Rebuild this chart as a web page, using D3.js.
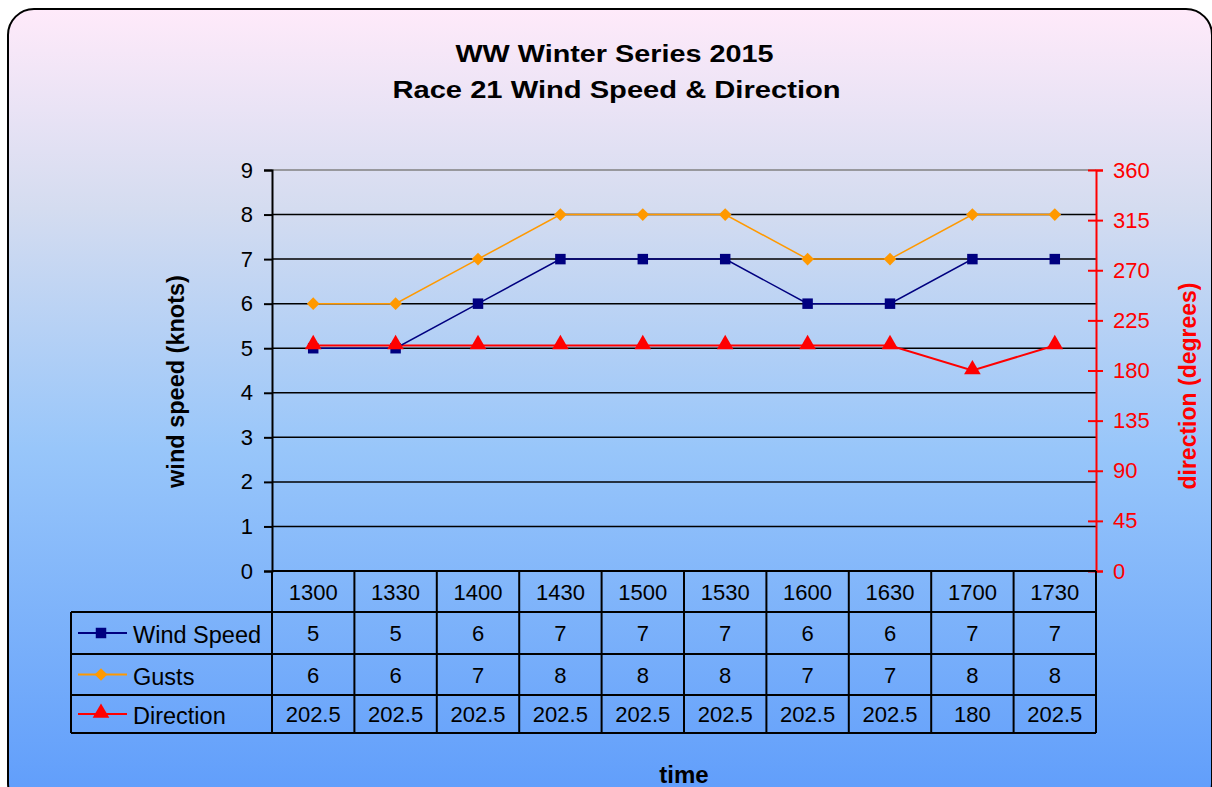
<!DOCTYPE html>
<html>
<head>
<meta charset="utf-8">
<script src="https://cdn.jsdelivr.net/npm/d3@7"></script>
<style>
  html, body { margin: 0; padding: 0; background: #fff; }
  svg { display: block; font-family: Arial, "Liberation Sans", sans-serif; }
</style>
</head>
<body>
<svg id="chart" width="1212" height="787"></svg>
<script>
"use strict";

// chart data
const times = ["1300", "1330", "1400", "1430", "1500", "1530", "1600", "1630", "1700", "1730"];
const windSpeed = [5, 5, 6, 7, 7, 7, 6, 6, 7, 7];
const gusts = [6, 6, 7, 8, 8, 8, 7, 7, 8, 8];
const direction = [202.5, 202.5, 202.5, 202.5, 202.5, 202.5, 202.5, 202.5, 180, 202.5];
const speedTicks = [0, 1, 2, 3, 4, 5, 6, 7, 8, 9];
const dirTicks = [0, 45, 90, 135, 180, 225, 270, 315, 360];

(function() {
  const svg = d3.select("#chart");

  // background gradient
  const defs = svg.append("defs");
  const grad = defs.append("linearGradient")
    .attr("id", "bg").attr("x1", 0).attr("y1", 0).attr("x2", 0).attr("y2", 1);
  grad.append("stop").attr("offset", "0%").attr("stop-color", "#ffeafa");
  grad.append("stop").attr("offset", "25%").attr("stop-color", "#d4dcf0");
  grad.append("stop").attr("offset", "55%").attr("stop-color", "#98c6fa");
  grad.append("stop").attr("offset", "100%").attr("stop-color", "#5e9cfb");

  svg.append("rect")
    .attr("x", 8).attr("y", 9)
    .attr("width", 1204).attr("height", 800)
    .attr("rx", 26).attr("ry", 26)
    .attr("fill", "url(#bg)")
    .attr("stroke", "#000")
    .attr("stroke-width", 2);

  const left = 272, right = 1096, top = 170, bottom = 571;

  const x = d3.scaleBand().domain(times).range([left, right]);
  const ySpeed = d3.scaleLinear().domain([0, 9]).range([bottom, top]);
  const yDir = d3.scaleLinear().domain([0, 360]).range([bottom, top]);
  const cx = d => x(d) + x.bandwidth() / 2;

  // gridlines
  svg.append("g").selectAll("line")
    .data(speedTicks.filter(t => t > 0))
    .enter().append("line")
    .attr("x1", left).attr("x2", right)
    .attr("y1", d => ySpeed(d)).attr("y2", d => ySpeed(d))
    .attr("stroke", d => d === 9 ? "#808080" : "#000")
    .attr("stroke-width", 1.5);

  // left axis
  const leftAxis = svg.append("g")
    .attr("transform", "translate(" + left + ",0)")
    .call(d3.axisLeft(ySpeed).tickValues(speedTicks).tickSize(8).tickPadding(11).tickFormat(d3.format("d")));
  leftAxis.select(".domain").attr("stroke", "#000").attr("stroke-width", 2);
  leftAxis.selectAll(".tick line").attr("stroke", "#000").attr("stroke-width", 2);
  leftAxis.selectAll("text").attr("font-size", 22).attr("fill", "#000")
    .attr("font-family", "Arial, 'Liberation Sans', sans-serif");

  // right axis
  const rightAxis = svg.append("g")
    .attr("transform", "translate(" + right + ",0)")
    .call(d3.axisRight(yDir).tickValues(dirTicks).tickSize(7).tickPadding(10).tickFormat(d3.format("d")));
  rightAxis.select(".domain").attr("stroke", "#ff0000").attr("stroke-width", 2);
  rightAxis.selectAll(".tick line").attr("stroke", "#ff0000").attr("stroke-width", 2).attr("x1", -8);
  rightAxis.selectAll("text").attr("font-size", 22).attr("fill", "#ff0000")
    .attr("font-family", "Arial, 'Liberation Sans', sans-serif");

  // series lines
  const speedLine = d3.line().x((d, i) => cx(times[i])).y(d => ySpeed(d));
  const dirLine = d3.line().x((d, i) => cx(times[i])).y(d => yDir(d));

  svg.append("path").datum(direction).attr("d", dirLine)
    .attr("fill", "none").attr("stroke", "#ff0000").attr("stroke-width", 2);
  svg.append("path").datum(windSpeed).attr("d", speedLine)
    .attr("fill", "none").attr("stroke", "#000080").attr("stroke-width", 1.5);
  svg.append("path").datum(gusts).attr("d", speedLine)
    .attr("fill", "none").attr("stroke", "#ff9900").attr("stroke-width", 1.5);

  // square diamond (rotated square)
  const diamondType = {
    draw: function(ctx, size) {
      const r = Math.sqrt(size / 2);
      ctx.moveTo(0, -r);
      ctx.lineTo(r, 0);
      ctx.lineTo(0, r);
      ctx.lineTo(-r, 0);
      ctx.closePath();
    }
  };
  const square = d3.symbol().type(d3.symbolSquare).size(110);
  const diamond = d3.symbol().type(diamondType).size(80);
  const triangle = d3.symbol().type(d3.symbolTriangle).size(120);

  svg.append("g").selectAll("path").data(windSpeed).enter().append("path")
    .attr("d", square)
    .attr("transform", (d, i) => "translate(" + cx(times[i]) + "," + ySpeed(d) + ")")
    .attr("fill", "#000080");
  svg.append("g").selectAll("path").data(gusts).enter().append("path")
    .attr("d", diamond)
    .attr("transform", (d, i) => "translate(" + cx(times[i]) + "," + ySpeed(d) + ")")
    .attr("fill", "#ff9900");
  svg.append("g").selectAll("path").data(direction).enter().append("path")
    .attr("d", triangle)
    .attr("transform", (d, i) => "translate(" + cx(times[i]) + "," + (yDir(d) - 1) + ")")
    .attr("fill", "#ff0000");

  // data table
  const tableLeft = 71;
  const rowEdges = [571, 612, 654, 695, 733];
  const series = [
    { name: "Wind Speed", values: windSpeed, color: "#000080", marker: square },
    { name: "Gusts", values: gusts, color: "#ff9900", marker: diamond },
    { name: "Direction", values: direction, color: "#ff0000", marker: triangle }
  ];
  const table = svg.append("g").attr("stroke", "#000").attr("stroke-width", 2);

  // horizontal lines
  table.append("line").attr("x1", left).attr("x2", right).attr("y1", rowEdges[0]).attr("y2", rowEdges[0]);
  rowEdges.slice(1).forEach(yy => {
    table.append("line").attr("x1", tableLeft).attr("x2", right).attr("y1", yy).attr("y2", yy);
  });
  // vertical lines
  table.append("line").attr("x1", tableLeft).attr("x2", tableLeft).attr("y1", rowEdges[1]).attr("y2", rowEdges[4]);
  times.forEach(t => {
    table.append("line").attr("x1", x(t)).attr("x2", x(t)).attr("y1", rowEdges[0]).attr("y2", rowEdges[4]);
  });
  table.append("line").attr("x1", right).attr("x2", right).attr("y1", rowEdges[0]).attr("y2", rowEdges[4]);

  const textG = svg.append("g").attr("font-size", 22).attr("fill", "#000");
  times.forEach(t => {
    textG.append("text").attr("x", cx(t)).attr("y", (rowEdges[0] + rowEdges[1]) / 2 + 8)
      .attr("text-anchor", "middle").text(t);
  });
  series.forEach((s, r) => {
    const ym = (rowEdges[r + 1] + rowEdges[r + 2]) / 2;
    svg.append("line").attr("x1", 78).attr("x2", 127).attr("y1", ym).attr("y2", ym)
      .attr("stroke", s.color).attr("stroke-width", 2);
    svg.append("path").attr("d", s.marker)
      .attr("transform", "translate(101," + (ym - (r === 2 ? 1 : 0)) + ")")
      .attr("fill", s.color);
    textG.append("text").attr("x", 133).attr("y", ym + 10).attr("font-size", 23.5).text(s.name);
    s.values.forEach((v, i) => {
      textG.append("text").attr("x", cx(times[i])).attr("y", ym + 8)
        .attr("text-anchor", "middle").text(v);
    });
  });

  // titles
  const titleG = svg.append("g").attr("font-weight", "bold").attr("text-anchor", "middle");
  titleG.append("text").attr("font-size", 24)
    .attr("transform", "translate(614.5,61.5) scale(1.2,1)").text("WW Winter Series 2015");
  titleG.append("text").attr("font-size", 24.5)
    .attr("transform", "translate(616.5,98) scale(1.19,1)").text("Race 21 Wind Speed & Direction");
  titleG.append("text").attr("x", 684).attr("y", 783).attr("font-size", 24).text("time");
  titleG.append("text").attr("font-size", 23.5)
    .attr("transform", "translate(184,381.5) rotate(-90)").text("wind speed (knots)");
  titleG.append("text").attr("font-size", 23)
    .attr("transform", "translate(1196,386) rotate(-90)").attr("fill", "#ff0000").text("direction (degrees)");
})();
</script>
</body>
</html>
